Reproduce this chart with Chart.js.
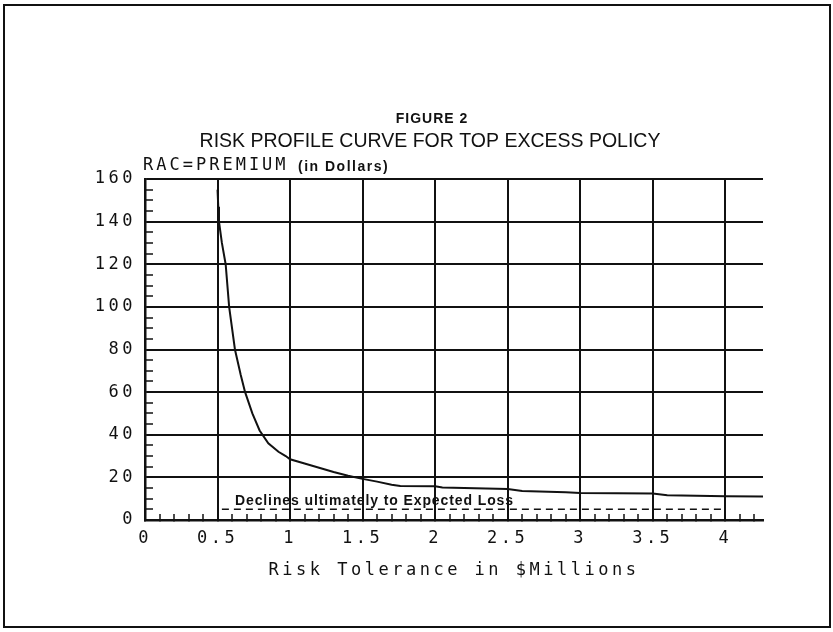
<!DOCTYPE html>
<html>
<head>
<meta charset="utf-8">
<script src="https://cdn.jsdelivr.net/npm/chart.js@4/dist/chart.umd.min.js"></script>
<style>
  html, body { margin: 0; padding: 0; background: #fff; }
  #wrap { position: relative; width: 833px; height: 632px; }
  #frame { position: absolute; left: 3px; top: 4px; width: 828px; height: 624px;
           border: 2px solid #111; box-sizing: border-box; pointer-events: none; }
  canvas { position: absolute; left: 0; top: 0; }
</style>
</head>
<body>
<div id="wrap">
  <canvas id="chart" width="833" height="632"></canvas>
  <div id="frame"></div>
</div>
<script>
// risk tolerance ($ millions) vs RAC = premium (dollars)
const riskTolerance = [0.5, 0.505, 0.51, 0.53, 0.556, 0.58, 0.62, 0.66, 0.69, 0.74, 0.79, 0.85,
  0.92, 0.97, 1.0, 1.1, 1.2, 1.3, 1.4, 1.5, 1.6, 1.7, 1.76, 2.0, 2.05, 2.5, 2.6, 2.9, 3.0,
  3.5, 3.6, 4.0, 4.26];
const premium = [155, 147, 140, 130, 120, 100, 80, 68, 60, 50, 42, 36,
  32, 30, 28.5, 26.5, 24.5, 22.5, 20.8, 19.3, 18, 16.5, 16, 15.8, 15.2, 14.5, 13.6, 13, 12.7,
  12.4, 11.6, 11.2, 11];

// expected loss floor (dashed)
const expectedLossX = [0.53, 4.0];
const expectedLossY = [5, 5];

// labelled ticks
const xLabelValues = [0, 0.5, 1, 1.5, 2, 2.5, 3, 3.5, 4];
const yLabelValues = [0, 20, 40, 60, 80, 100, 120, 140, 160];

const INK = '#111';
const MONO = '"DejaVu Sans Mono", monospace';
const SANS = '"Liberation Sans", Arial, sans-serif';

const isXLabel = (v) => xLabelValues.some((t) => Math.abs(t - v) < 1e-6);
const isYLabel = (v) => yLabelValues.some((t) => Math.abs(t - v) < 1e-6);

const toPoints = (xs, ys) => xs.map((x, i) => ({ x, y: ys[i] }));

// plotter-style wide lettering for the axes, plain text for the rest
const spacingPlugin = {
  id: 'spacing',
  beforeDraw(chart) { chart.ctx.letterSpacing = '3.5px'; },
  beforeDatasetsDraw(chart) { chart.ctx.letterSpacing = '0px'; },
};

const headerPlugin = {
  id: 'header',
  afterDraw(chart) {
    const { ctx, scales } = chart;
    ctx.save();
    ctx.fillStyle = INK;
    ctx.textBaseline = 'middle';
    ctx.textAlign = 'center';
    ctx.letterSpacing = '1px';
    ctx.font = 'bold 14px ' + SANS;
    ctx.fillText('FIGURE 2', 432, 119);
    ctx.letterSpacing = '0px';
    ctx.font = '19.5px ' + SANS;
    ctx.fillText('RISK PROFILE CURVE FOR TOP EXCESS POLICY', 430, 142);

    ctx.textAlign = 'left';
    ctx.font = '17px ' + MONO;
    ctx.letterSpacing = '3px';
    ctx.fillText('RAC=PREMIUM', 143, 166);
    ctx.letterSpacing = '1.5px';
    ctx.font = 'bold 14px ' + SANS;
    ctx.fillText('(in Dollars)', 298, 167);

    ctx.letterSpacing = '0.9px';
    ctx.font = 'bold 14px ' + SANS;
    ctx.fillText('Declines ultimately to Expected Loss',
      scales.x.getPixelForValue(0.62), scales.y.getPixelForValue(9));
    ctx.restore();
  },
};

new Chart(document.getElementById('chart'), {
  type: 'line',
  data: {
    datasets: [
      {
        label: 'RAC',
        data: toPoints(riskTolerance, premium),
        borderColor: INK,
        borderWidth: 2,
        pointRadius: 0,
        tension: 0,
      },
      {
        label: 'Expected Loss',
        data: toPoints(expectedLossX, expectedLossY),
        borderColor: INK,
        borderWidth: 1.5,
        borderDash: [7, 5],
        pointRadius: 0,
      },
    ],
  },
  options: {
    responsive: false,
    animation: false,
    layout: { padding: { left: 0, right: 70, top: 179, bottom: 0 } },
    plugins: {
      legend: { display: false },
      tooltip: { enabled: false },
      title: { display: false },
    },
    scales: {
      x: {
        type: 'linear',
        min: 0,
        max: 4.26,
        afterFit: (s) => { s.height = 112; },
        ticks: {
          stepSize: 0.1,
          includeBounds: false,
          autoSkip: false,
          maxRotation: 0,
          padding: 14,
          color: INK,
          font: { family: MONO, size: 17 },
          callback: (v) => (isXLabel(v) ? String(Math.round(v * 10) / 10) : ''),
        },
        grid: {
          color: (c) => (c.tick && isXLabel(c.tick.value) ? INK : 'rgba(0,0,0,0)'),
          lineWidth: 2,
          tickColor: INK,
          tickWidth: 1.5,
          tickLength: -6,
          drawTicks: true,
        },
        border: { display: true, color: INK, width: 2.5 },
        title: {
          display: true,
          text: 'Risk Tolerance in $Millions',
          color: INK,
          font: { family: MONO, size: 17 },
          padding: { top: 0, bottom: 51 },
        },
      },
      y: {
        min: 0,
        max: 160,
        afterFit: (s) => { s.width = 145; },
        ticks: {
          stepSize: 5,
          autoSkip: false,
          padding: 17,
          color: INK,
          font: { family: MONO, size: 17 },
          callback: (v) => (isYLabel(v) ? String(v) : ''),
        },
        grid: {
          color: (c) => (c.tick && isYLabel(c.tick.value) ? INK : 'rgba(0,0,0,0)'),
          lineWidth: 2,
          tickColor: INK,
          tickWidth: 1.5,
          tickLength: -8,
          drawTicks: true,
        },
        border: { display: true, color: INK, width: 2.5 },
      },
    },
  },
  plugins: [spacingPlugin, headerPlugin],
});
</script>
</body>
</html>
